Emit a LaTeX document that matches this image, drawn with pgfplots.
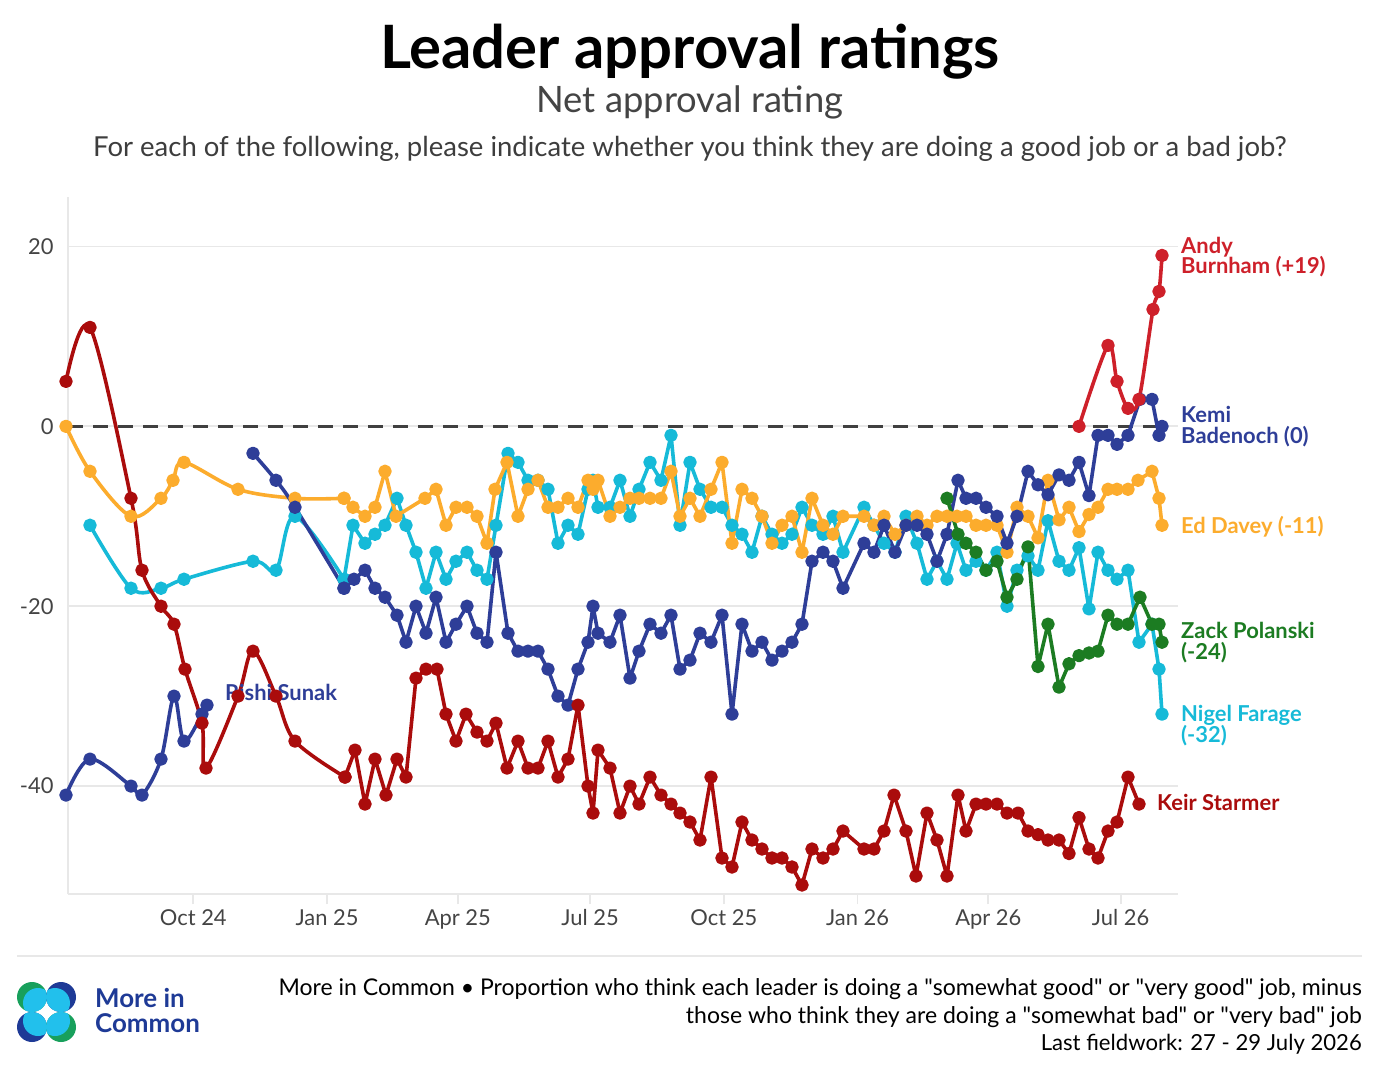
\documentclass[border=0pt]{standalone}
\usepackage{fontspec}
\setmainfont{Lato}
\usepackage{pgfplots}
\pgfplotsset{compat=1.18}
\definecolor{starmer}{RGB}{170,12,12}
\definecolor{burnham}{RGB}{206,32,42}
\definecolor{navy}{RGB}{46,62,152}
\definecolor{davey}{RGB}{252,172,45}
\definecolor{farage}{RGB}{22,186,216}
\definecolor{polanski}{RGB}{28,124,34}
\definecolor{gridgray}{RGB}{232,232,232}
\definecolor{tickgray}{RGB}{68,68,68}
\definecolor{logogreen}{RGB}{24,160,92}
\definecolor{logonavy}{RGB}{30,58,150}
\definecolor{logoblue}{RGB}{34,192,236}
\pgfplotsset{
  ser/.style={color=#1, line width=3.6bp, line join=round, mark=*, mark size=4.9bp, mark options={draw=none, fill=#1}},
}
\tikzset{
  lab/.style={font=\fontsize{22}{24}\selectfont\bfseries, anchor=base west, inner sep=0pt},
}
\newcommand{\q}{\textquotedbl}
\begin{document}
\begin{tikzpicture}
\useasboundingbox (0,0) rectangle (1384bp,-1078bp);
\fill[white] (0,0) rectangle (1384bp,-1078bp);
\node[anchor=base, inner sep=0pt, font=\fontsize{60}{70}\selectfont\bfseries] at (690bp,-68bp) {Leader approval ratings};
\node[anchor=base, inner sep=0pt, text=tickgray, font=\fontsize{36.5}{40}\selectfont] at (690bp,-112bp) {Net approval rating};
\node[anchor=base, inner sep=0pt, text=tickgray!90!black, font=\fontsize{27.6}{30}\selectfont] at (690bp,-156bp) {For each of the following, please indicate whether you think they are doing a good job or a bad job?};
\begin{axis}[
  at={(68bp,-894bp)}, anchor=south west,
  scale only axis, width=1110bp, height=697bp,
  xmin=68, xmax=1178, ymin=-52, ymax=25.5,
  clip=false,
  axis line style={draw=none},
  tick pos=left,
  xtick={193.3,327,457.8,590.1,723.8,857.5,988.3,1120.6},
  xticklabels={Oct 24,Jan 25,Apr 25,Jul 25,Oct 25,Jan 26,Apr 26,Jul 26},
  ytick={-40,-20,0,20},
  yticklabels={-40,-20,0,20},
  ymajorgrids, grid style={draw=gridgray, line width=1.8bp},
  xtick align=outside, major tick length=10bp,
  xtick style={draw=gridgray, line width=1.8bp},
  ytick style={draw=none},
  ticklabel style={font=\fontsize{22}{26}\selectfont, text=tickgray},
  xticklabel style={yshift=-2bp},
  yticklabel style={xshift=-11bp},
]
\draw[gridgray, line width=1.8bp] (axis cs:68,-52) -- (axis cs:68,25.5);
\draw[gridgray, line width=1.8bp] (axis cs:68,-52) -- (axis cs:1178,-52);
\addplot[draw=black!75, line width=2.8bp, dash pattern=on 15bp off 10bp] coordinates {(68,0) (1165,0)};
% Nigel Farage
\addplot[ser=farage, smooth, tension=0.55] coordinates {
(90,-11) (131,-18) (161,-18) (184,-17) (253,-15) (276,-16) (295,-10) (344,-17)};
\addplot[ser=farage] coordinates {
(344,-17) (353,-11) (365,-13) (375,-12) (385,-11) (397,-8) (406,-11) (416,-14) (426,-18) (436,-14)
(446,-17) (456,-15) (467,-14) (477,-16) (487,-17) (496,-11) (508,-3) (518,-4) (528,-6) (538,-6)
(548,-7) (558,-13) (568,-11) (578,-12) (588,-7) (593,-6) (598,-9) (610,-9) (620,-6) (630,-10)
(639,-7) (650,-4) (661,-6) (671,-1) (680,-11) (690,-4) (700,-7) (711,-9) (722,-9) (732,-11)
(742,-12) (752,-14) (762,-10) (772,-12) (782,-13) (792,-12) (802,-9) (812,-11) (823,-12) (833,-10)
(843,-14) (864,-9) (874,-11) (884,-13) (895,-14) (906,-10) (917,-13) (927,-17) (937,-15) (947,-17)
(957,-13) (966,-16) (976,-15) (986,-16) (997,-14) (1007,-20) (1017,-16) (1028,-14.4) (1038,-16) (1048,-10.5)
(1059,-15) (1069,-16) (1079,-13.5) (1089,-20.3) (1098,-14) (1108,-16) (1117,-17) (1128,-16) (1139,-24) (1152,-22)
(1159,-27) (1162,-32)};
% Ed Davey
\addplot[ser=davey, smooth, tension=0.55] coordinates {
(66,0) (90,-5) (131,-10) (161,-8) (173,-6) (184,-4) (238,-7) (295,-8) (344,-8)};
\addplot[ser=davey] coordinates {
(344,-8) (353,-9) (365,-10) (375,-9) (385,-5) (396,-10) (425,-8) (436,-7) (446,-11) (456,-9)
(467,-9) (477,-10) (487,-13) (495,-7) (507,-4) (518,-10) (528,-7) (538,-6) (548,-9) (558,-9)
(568,-8) (578,-9) (588,-6) (593,-7) (598,-6) (610,-10) (620,-9) (630,-8) (639,-8) (650,-8)
(661,-8) (671,-5) (680,-10) (690,-8) (700,-10) (711,-7) (722,-4) (732,-13) (742,-7) (752,-8)
(762,-10) (772,-13) (782,-11) (792,-10) (802,-14) (812,-8) (823,-11) (833,-12) (843,-10) (864,-10)
(874,-11) (884,-10) (895,-12) (906,-11) (917,-10) (927,-11) (937,-10) (947,-10) (957,-10) (966,-10)
(976,-11) (986,-11) (997,-11) (1007,-14) (1017,-9) (1028,-10) (1038,-12.4) (1048,-6) (1059,-10.4) (1069,-9)
(1079,-11.7) (1089,-9.8) (1098,-9) (1108,-7) (1117,-7) (1128,-7) (1138,-6) (1152,-5) (1159,-8) (1162,-11)};
% Rishi Sunak
\addplot[ser=navy, smooth, tension=0.55] coordinates {
(66,-41) (90,-37) (131,-40) (142,-41) (161,-37) (174,-30) (184,-35) (202,-32) (207,-31)};
% Kemi Badenoch
\addplot[ser=navy, smooth, tension=0.55] coordinates {
(253,-3) (276,-6) (295,-9) (344,-18)};
\addplot[ser=navy] coordinates {
(344,-18) (354,-17) (365,-16) (375,-18) (385,-19) (397,-21) (406,-24) (416,-20) (426,-23) (436,-19)
(446,-24) (456,-22) (467,-20) (477,-23) (487,-24) (496,-14) (508,-23) (518,-25) (528,-25) (538,-25)
(548,-27) (558,-30) (568,-31) (578,-27) (588,-24) (593,-20) (598,-23) (610,-24) (620,-21) (630,-28)
(639,-25) (650,-22) (661,-23) (671,-21) (680,-27) (690,-26) (700,-23) (711,-24) (722,-21) (732,-32)
(742,-22) (752,-25) (762,-24) (772,-26) (782,-25) (792,-24) (802,-22) (812,-15) (823,-14) (833,-15)
(843,-18) (864,-13) (874,-14) (884,-11) (895,-14) (906,-11) (917,-11) (927,-12) (937,-15) (947,-12)
(958,-6) (966,-8) (976,-8) (986,-9) (997,-10) (1007,-13) (1017,-10) (1028,-5) (1038,-6.5) (1048,-7.6)
(1059,-5.4) (1069,-6) (1079,-4) (1089,-7.7) (1098,-1) (1108,-1) (1117,-2) (1128,-1) (1140,3) (1152,3)
(1159,-1) (1162,0)};
% Zack Polanski
\addplot[ser=polanski] coordinates {
(947,-8) (958,-12) (966,-13) (976,-14) (986,-16) (997,-15) (1007,-19) (1017,-17) (1028,-13.4) (1038,-26.7)
(1048,-22) (1059,-29) (1069,-26.4) (1079,-25.5) (1089,-25.2) (1098,-25) (1108,-21) (1117,-22) (1128,-22) (1140,-19)
(1152,-22) (1159,-22) (1162,-24)};
% Keir Starmer
\addplot[ser=starmer, smooth, tension=0.55] coordinates {
(66,5) (90,11) (131,-8) (142,-16) (161,-20) (174,-22) (185,-27) (202,-33) (206,-38) (238,-30)
(253,-25) (276,-30) (295,-35) (345,-39)};
\addplot[ser=starmer] coordinates {
(345,-39) (355,-36) (365,-42) (375,-37) (386,-41) (397,-37) (406,-39) (416,-28) (426,-27) (437,-27)
(446,-32) (456,-35) (466,-32) (477,-34) (487,-35) (496,-33) (507,-38) (518,-35) (528,-38) (538,-38)
(548,-35) (558,-39) (568,-37) (578,-31) (588,-40) (593,-43) (598,-36) (610,-38) (620,-43) (630,-40)
(639,-42) (650,-39) (661,-41) (671,-42) (680,-43) (690,-44) (700,-46) (711,-39) (722,-48) (732,-49)
(742,-44) (752,-46) (762,-47) (772,-48) (782,-48) (792,-49) (802,-51) (812,-47) (823,-48) (833,-47)
(843,-45) (864,-47) (874,-47) (884,-45) (894,-41) (906,-45) (916,-50) (927,-43) (937,-46) (947,-50)
(958,-41) (966,-45) (976,-42) (986,-42) (997,-42) (1007,-43) (1018,-43) (1028,-45) (1038,-45.4) (1048,-46)
(1059,-46) (1069,-47.5) (1079,-43.5) (1089,-47) (1098,-48) (1108,-45) (1117,-44) (1128,-39) (1139,-42)};
% Andy Burnham
\addplot[ser=burnham, smooth, tension=0.5] coordinates {
(1079,0) (1108,9) (1117,5) (1128,2) (1139,3) (1153,13) (1159,15) (1162,19)};
% labels
\node[lab, text=burnham, align=left] at (axis cs:1181,16.94) {Andy\\[-3bp]Burnham (+19)};
\node[lab, text=navy, align=left] at (axis cs:1181,-1.94) {Kemi\\[-3bp]Badenoch (0)};
\node[lab, text=davey] at (axis cs:1181,-11.87) {Ed Davey (-11)};
\node[lab, text=polanski, align=left] at (axis cs:1181,-25.94) {Zack Polanski\\[-3bp](-24)};
\node[lab, text=farage, align=left] at (axis cs:1181,-35.1) {Nigel Farage\\[-3bp](-32)};
\node[lab, text=starmer] at (axis cs:1157,-42.7) {Keir Starmer};
\node[lab, text=navy] at (axis cs:225,-30.5) {Rishi Sunak};
\end{axis}
% footer
\draw[gridgray, line width=2bp] (17bp,-955.7bp) -- (1362bp,-955.7bp);
\begin{scope}[font=\fontsize{23.1}{26}\selectfont]
\node[anchor=base east, inner sep=0pt] at (1362bp,-995bp) {More in Common • Proportion who think each leader is doing a \q somewhat good\q{} or \q very good\q{} job, minus};
\node[anchor=base east, inner sep=0pt] at (1362bp,-1023bp) {those who think they are doing a \q somewhat bad\q{} or \q very bad\q{} job};
\node[anchor=base east, inner sep=0pt, font=\fontsize{22.2}{26}\selectfont] at (1362bp,-1050bp) {Last fieldwork: 27 - 29 July 2026};
\end{scope}
% logo
\foreach \cx/\cy/\dx/\dy/\col in {32/997/6/6/logogreen, 61/997/-6/6/logonavy, 32/1027/6/-6/logonavy, 61/1027/-6/-6/logogreen}{
  \begin{scope}
    \fill[\col] (\cx bp,-\cy bp) circle (15bp);
    \clip (\cx bp,-\cy bp) circle (15bp);
    \fill[logoblue] (\cx bp+\dx bp,-\cy bp-\dy bp) circle (15bp);
  \end{scope}
}
\node[anchor=base west, inner sep=0pt, align=left, text=logonavy, font=\fontsize{26}{25}\selectfont\bfseries] at (95bp,-1032bp) {More in\\Common};
\end{tikzpicture}
\end{document}
